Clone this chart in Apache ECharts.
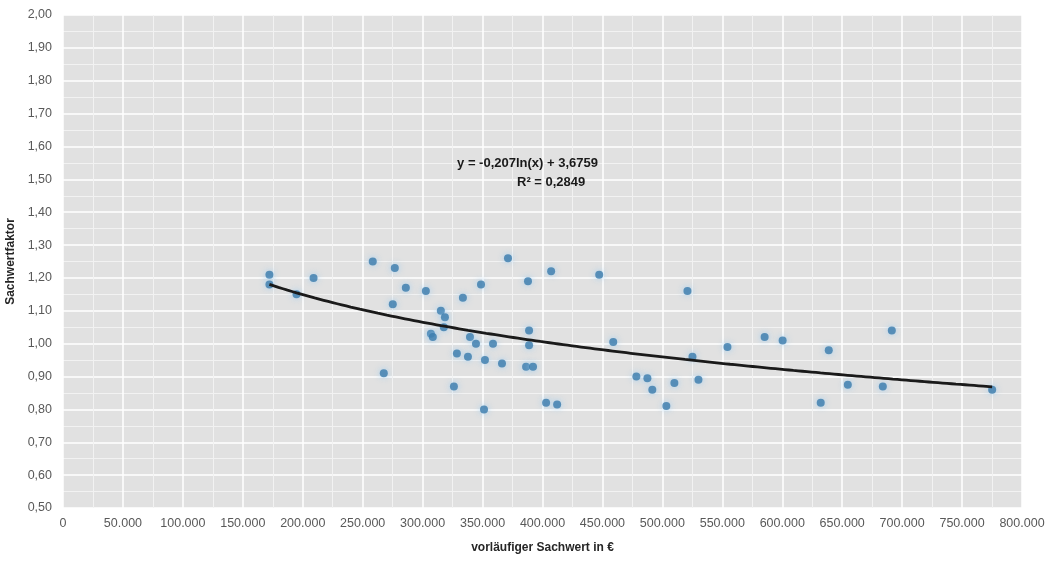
<!DOCTYPE html>
<html>
<head>
<meta charset="utf-8">
<script src="https://cdn.jsdelivr.net/npm/echarts@6/dist/echarts.min.js"></script>
<style>
  html, body { margin: 0; padding: 0; background: #ffffff; }
  #chart { width: 1049px; height: 562px; }
</style>
</head>
<body>
<div id="chart"></div>
<script>
// vorläufiger Sachwert (€) of each sale
const sachwert = [
  172200, 172200, 194800, 209000, 258400, 276800, 286000, 275100, 302700, 267600,
  306900, 308500, 315200, 318600, 317700, 333600, 328600, 326100, 337800, 339500,
  344500, 348700, 352000, 351200, 358700, 366200, 371200, 387900, 388800, 388800,
  386300, 392100, 403000, 407200, 412200, 447300, 459000, 478300, 487500, 491600,
  503300, 510000, 520900, 525100, 530100, 554300, 585300, 600300, 632100, 638800,
  654700, 683900, 691400, 775100
];
// Sachwertfaktor of each sale
const faktor = [
  1.21, 1.18, 1.15, 1.20, 1.25, 1.23, 1.17, 1.12, 1.16, 0.91,
  1.03, 1.02, 1.10, 1.08, 1.05, 1.14, 0.97, 0.87, 0.96, 1.02,
  1.00, 1.18, 0.95, 0.80, 1.00, 0.94, 1.26, 1.19, 1.04, 0.995,
  0.93, 0.93, 0.82, 1.22, 0.815, 1.21, 1.005, 0.90, 0.895, 0.86,
  0.81, 0.88, 1.16, 0.96, 0.89, 0.99, 1.02, 1.01, 0.82, 0.98,
  0.875, 0.87, 1.04, 0.86
];
// logarithmic trend line, as given in the equation label
const trendA = -0.207;
const trendB = 3.6759;
const trendR2 = 0.2849;

const xTicks = { min: 0, max: 800000, interval: 50000 };
const yTicks = { min: 0.5, max: 2.0, interval: 0.1 };

const points = sachwert.map((x, i) => [x, faktor[i]]);
const xMin = Math.min(...sachwert);
const xMax = Math.max(...sachwert);
const trend = [];
for (let k = 0; k <= 80; k++) {
  const x = xMin + (xMax - xMin) * k / 80;
  trend.push([x, trendA * Math.log(x) + trendB]);
}

const deNum = (v, d) => v.toFixed(d).replace('.', ',');
const thousands = v => String(Math.round(v)).replace(/\B(?=(\d{3})+(?!\d))/g, '.');

const eqFont = 'bold 13px "Liberation Sans"';

const chart = echarts.init(document.getElementById('chart'), null, { renderer: 'canvas' });
chart.setOption({
  animation: false,
  backgroundColor: '#ffffff',
  textStyle: { fontFamily: 'Liberation Sans' },
  grid: {
    left: 63, right: 27, top: 15, bottom: 54,
    containLabel: false,
    outerBoundsMode: 'none',
    show: true, backgroundColor: '#e1e1e1', borderWidth: 0
  },
  xAxis: {
    type: 'value',
    min: xTicks.min, max: xTicks.max, interval: xTicks.interval,
    name: 'vorläufiger Sachwert in €',
    nameLocation: 'middle', nameGap: 34,
    nameTextStyle: { fontWeight: 'bold', fontSize: 12, color: '#262626' },
    axisLine: { show: false },
    axisTick: { show: false },
    axisLabel: { color: '#595959', fontSize: 12.5, margin: 9, formatter: v => thousands(v) },
    splitLine: { show: true, lineStyle: { color: '#ffffff', width: 1.5 } },
    minorTick: { show: false, splitNumber: 2 },
    minorSplitLine: { show: true, lineStyle: { color: '#f2f2f2', width: 1 } }
  },
  yAxis: {
    type: 'value',
    min: yTicks.min, max: yTicks.max, interval: yTicks.interval,
    name: 'Sachwertfaktor',
    nameLocation: 'middle', nameGap: 44,
    nameTextStyle: { fontWeight: 'bold', fontSize: 12, color: '#262626' },
    axisLine: { show: false },
    axisTick: { show: false },
    axisLabel: { color: '#595959', fontSize: 12.5, margin: 11, formatter: v => deNum(v, 2) },
    splitLine: { show: true, lineStyle: { color: '#ffffff', width: 1.5 } },
    minorTick: { show: false, splitNumber: 2 },
    minorSplitLine: { show: true, lineStyle: { color: '#f2f2f2', width: 1 } }
  },
  graphic: [
    {
      type: 'text',
      right: 1049 - 598, top: 157,
      style: {
        text: 'y = ' + deNum(trendA, 3) + 'ln(x) + ' + deNum(trendB, 4),
        font: eqFont, fill: '#1a1a1a'
      },
      z: 10
    },
    {
      type: 'text',
      left: 517, top: 176,
      style: {
        text: 'R² = ' + deNum(trendR2, 4),
        font: eqFont, fill: '#1a1a1a'
      },
      z: 10
    }
  ],
  series: [
    {
      type: 'scatter',
      data: points,
      symbolSize: 8,
      itemStyle: {
        color: '#3a7aab',
        shadowBlur: 6,
        shadowColor: 'rgba(140,200,245,0.9)'
      },
      z: 3
    },
    {
      type: 'line',
      data: trend,
      showSymbol: false,
      smooth: true,
      lineStyle: { color: '#1a1a1a', width: 2.8 },
      z: 4
    }
  ]
});
</script>
</body>
</html>
